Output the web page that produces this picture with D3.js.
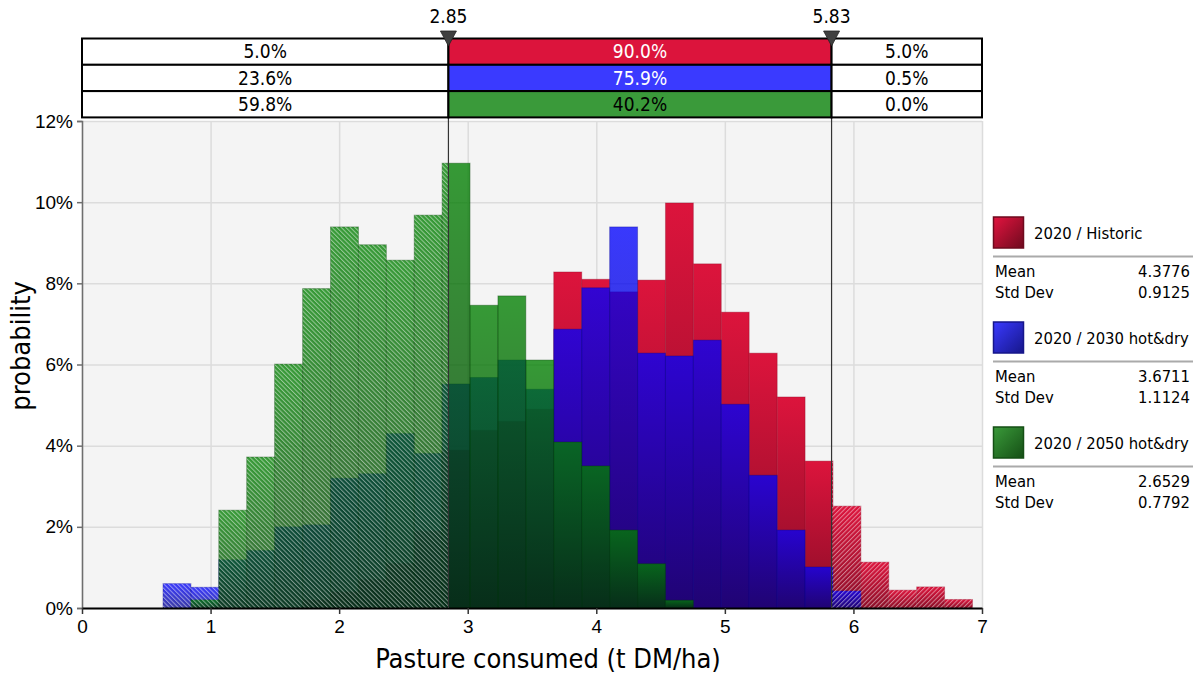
<!DOCTYPE html>
<html>
<head>
<meta charset="utf-8">
<title>Pasture consumed</title>
<script src="https://d3js.org/d3.v7.min.js"></script>
<style>
  body { margin: 0; background: #fff; }
  svg { font-family: "DejaVu Sans Condensed", "DejaVu Sans", sans-serif; }
  .grid line { stroke: #dcdcdc; stroke-width: 1.5; }
  .grid path { display: none; }
</style>
</head>
<body>
<svg width="1201" height="675"></svg>
<script>

// histogram bin edges (t DM/ha), shared by all three series
const binEdges = [0.630, 0.847, 1.064, 1.281, 1.498, 1.716, 1.933, 2.150, 2.367, 2.584,
                  2.801, 3.018, 3.235, 3.452, 3.669, 3.887, 4.104, 4.321, 4.538, 4.755,
                  4.972, 5.189, 5.407, 5.624, 5.841, 6.058, 6.275, 6.492, 6.709, 6.926];

// probability per bin (%)
const historic = [0, 0, 0, 0, 0, 0.2, 0.4, 0.7, 1.1, 1.9,
                  3.89, 4.38, 4.6, 4.9, 8.28, 8.1, 7.79, 8.08, 9.98, 8.48,
                  7.29, 6.28, 5.2, 3.62, 2.51, 1.13, 0.44, 0.52, 0.21];
const hotDry2030 = [0.6, 0.51, 1.19, 1.42, 2.0, 2.05, 3.2, 3.31, 4.3, 3.81,
                    5.52, 5.68, 6.11, 5.39, 6.87, 7.89, 9.39, 6.28, 6.21, 6.6,
                    5.02, 3.27, 1.92, 1.01, 0.42, 0, 0, 0, 0];
const hotDry2050 = [0, 0.2, 2.41, 3.72, 6.01, 7.87, 9.39, 8.95, 8.57, 9.68,
                    10.96, 7.46, 7.69, 6.11, 4.09, 3.5, 1.92, 1.09, 0.19, 0,
                    0, 0, 0, 0, 0, 0, 0, 0, 0];

const seriesNames = ["2020 / Historic", "2020 / 2030 hot&dry", "2020 / 2050 hot&dry"];
const seriesMeans = ["4.3776", "3.6711", "2.6529"];
const seriesStdDevs = ["0.9125", "1.1124", "0.7792"];

// delimiters and the probability table above the chart
const delimiters = [2.85, 5.83];
const leftPct = ["5.0%", "23.6%", "59.8%"];
const midPct = ["90.0%", "75.9%", "40.2%"];
const rightPct = ["5.0%", "0.5%", "0.0%"];

const xTicks = [0, 1, 2, 3, 4, 5, 6, 7];
const yTicks = [0, 2, 4, 6, 8, 10, 12];

const svg = d3.select("svg");
const plot = { left: 82, right: 982, top: 121, bottom: 608 };

const x = d3.scaleLinear().domain([0, 7]).range([plot.left, plot.right]);
const y = d3.scaleLinear().domain([0, 12]).range([plot.bottom, plot.top]);

const series = [
  { values: historic,   top: "#dc143c", bottom: "#8a0d27", opacity: 1,    cell: "#dc143c", text: "#fff", swatch: ["#e3143f", "#6e0a1e"] },
  { values: hotDry2030, top: "#0000ff", bottom: "#00008a", opacity: 0.77, cell: "#3a3aff", text: "#fff", swatch: ["#3a3aff", "#16168a"] },
  { values: hotDry2050, top: "#008000", bottom: "#003a00", opacity: 0.78, cell: "#3a9a3a", text: "#000", swatch: ["#3a9a3a", "#154f15"] }
];

const defs = svg.append("defs");

// vertical gradient for the bars, lighter on top
series.forEach(function(s, i) {
  const grad = defs.append("linearGradient")
    .attr("id", "bar-" + i)
    .attr("x1", 0).attr("y1", 0).attr("x2", 0).attr("y2", 1);
  grad.append("stop").attr("offset", 0).attr("stop-color", s.top);
  grad.append("stop").attr("offset", 1).attr("stop-color", s.bottom);

  const sw = defs.append("linearGradient")
    .attr("id", "swatch-" + i)
    .attr("x1", 0).attr("y1", 0).attr("x2", 1).attr("y2", 1);
  sw.append("stop").attr("offset", 0).attr("stop-color", s.swatch[0]);
  sw.append("stop").attr("offset", 1).attr("stop-color", s.swatch[1]);
});

// hatch patterns for the tails
[["hatch-left", -45], ["hatch-right", 45]].forEach(function(p) {
  const pat = defs.append("pattern")
    .attr("id", p[0])
    .attr("patternUnits", "userSpaceOnUse")
    .attr("width", 3.2).attr("height", 3.2)
    .attr("patternTransform", "rotate(" + p[1] + ")");
  pat.append("rect")
    .attr("x", 0).attr("y", 0).attr("width", 1).attr("height", 3.2)
    .attr("fill", "#fff").attr("fill-opacity", 0.48);
});

defs.append("clipPath").attr("id", "clip-left")
  .append("rect")
  .attr("x", plot.left).attr("y", plot.top)
  .attr("width", x(delimiters[0]) - plot.left).attr("height", plot.bottom - plot.top);
defs.append("clipPath").attr("id", "clip-right")
  .append("rect")
  .attr("x", x(delimiters[1])).attr("y", plot.top)
  .attr("width", plot.right - x(delimiters[1])).attr("height", plot.bottom - plot.top);

// plot background
svg.append("rect")
  .attr("x", plot.left).attr("y", plot.top)
  .attr("width", plot.right - plot.left).attr("height", plot.bottom - plot.top)
  .attr("fill", "#f4f4f4");

// grid
svg.append("g")
  .attr("class", "grid")
  .attr("transform", "translate(" + plot.left + ",0)")
  .call(d3.axisLeft(y).tickValues(yTicks).tickSize(-(plot.right - plot.left)).tickFormat(""));
svg.append("g")
  .attr("class", "grid")
  .attr("transform", "translate(0," + plot.bottom + ")")
  .call(d3.axisBottom(x).tickValues(xTicks).tickSize(-(plot.bottom - plot.top)).tickFormat(""));

// bars: historic, then 2030, then 2050 on top
series.forEach(function(s, i) {
  const bins = s.values.map(function(v, j) {
    return { x0: binEdges[j], x1: binEdges[j + 1], v: v };
  }).filter(function(d) { return d.v > 0; });

  svg.append("g").selectAll("rect")
    .data(bins)
    .join("rect")
    .attr("x", function(d) { return x(d.x0); })
    .attr("y", function(d) { return y(d.v); })
    .attr("width", function(d) { return x(d.x1) - x(d.x0); })
    .attr("height", function(d) { return y(0) - y(d.v); })
    .attr("fill", "url(#bar-" + i + ")")
    .attr("fill-opacity", s.opacity)
    .attr("stroke", s.bottom)
    .attr("stroke-opacity", 0.35)
    .attr("stroke-width", 1);
});

// hatching over the tails, using the outline of all series
const envelope = binEdges.slice(0, -1).map(function(e, j) {
  return { x0: e, x1: binEdges[j + 1], v: Math.max(historic[j], hotDry2030[j], hotDry2050[j]) };
}).filter(function(d) { return d.v > 0; });

["left", "right"].forEach(function(side) {
  svg.append("g")
    .attr("clip-path", "url(#clip-" + side + ")")
    .selectAll("rect")
    .data(envelope)
    .join("rect")
    .attr("x", function(d) { return x(d.x0); })
    .attr("y", function(d) { return y(d.v); })
    .attr("width", function(d) { return x(d.x1) - x(d.x0); })
    .attr("height", function(d) { return y(0) - y(d.v); })
    .attr("fill", "url(#hatch-" + side + ")");
});

// y axis
const yAxis = svg.append("g")
  .attr("transform", "translate(" + plot.left + ",0)")
  .call(d3.axisLeft(y).tickValues(yTicks).tickSize(5).tickPadding(4).tickFormat(function(d) { return d + "%"; }));
yAxis.select(".domain").attr("stroke", "#6e6e6e").attr("stroke-width", 1.5);
yAxis.selectAll(".tick line").attr("stroke", "#6e6e6e").attr("stroke-width", 1.5);
yAxis.selectAll("text").style("font-size", "19px").attr("fill", "#000");

// x axis
const xAxis = svg.append("g")
  .attr("transform", "translate(0," + plot.bottom + ")")
  .call(d3.axisBottom(x).tickValues(xTicks).tickSize(6).tickPadding(6).tickSizeOuter(0).tickFormat(d3.format("d")));
xAxis.select(".domain").attr("stroke", "#000").attr("stroke-width", 2);
xAxis.selectAll(".tick line").attr("stroke", "#333").attr("stroke-width", 1.5);
xAxis.selectAll("text").style("font-size", "19px").attr("fill", "#000");

// axis titles
svg.append("text")
  .attr("x", 548).attr("y", 668)
  .attr("text-anchor", "middle")
  .style("font-size", "27px")
  .text("Pasture consumed (t DM/ha)");

svg.append("text")
  .attr("transform", "translate(30," + 346 + ") rotate(-90)")
  .attr("text-anchor", "middle")
  .style("font-size", "27px")
  .text("probability");

// delimiter lines
svg.append("g").selectAll("line")
  .data(delimiters)
  .join("line")
  .attr("x1", function(d) { return x(d); })
  .attr("x2", function(d) { return x(d); })
  .attr("y1", 38).attr("y2", plot.bottom)
  .attr("stroke", "#333").attr("stroke-width", 1.2);

// probability table
const rowTop = 38.5, rowH = 26.3;
const cols = [x(0), x(delimiters[0]), x(delimiters[1]), x(7)];
const table = svg.append("g");
series.forEach(function(s, i) {
  const cells = [leftPct[i], midPct[i], rightPct[i]];
  cells.forEach(function(label, c) {
    table.append("rect")
      .attr("x", cols[c]).attr("y", rowTop + i * rowH)
      .attr("width", cols[c + 1] - cols[c]).attr("height", rowH)
      .attr("fill", c === 1 ? s.cell : "#fff")
      .attr("stroke", "#000").attr("stroke-width", 2);
    table.append("text")
      .attr("x", (cols[c] + cols[c + 1]) / 2)
      .attr("y", rowTop + i * rowH + rowH / 2)
      .attr("dy", "0.36em")
      .attr("text-anchor", "middle")
      .style("font-size", "19px")
      .attr("fill", c === 1 ? s.text : "#000")
      .text(label);
  });
});

// delimiter markers and values
delimiters.forEach(function(d) {
  const cx = x(d);
  svg.append("path")
    .attr("d", "M" + (cx - 8) + ",31 L" + (cx + 8) + ",31 L" + cx + ",46 Z")
    .attr("fill", "#404040").attr("stroke", "#222").attr("stroke-width", 0.8);
  svg.append("text")
    .attr("x", cx).attr("y", 23)
    .attr("text-anchor", "middle")
    .style("font-size", "19px")
    .text(d.toFixed(2));
});

// legend with statistics
const legend = svg.append("g");
series.forEach(function(s, i) {
  const top = 217 + i * 105;
  legend.append("rect")
    .attr("x", 993.5).attr("y", top)
    .attr("width", 30).attr("height", 31)
    .attr("fill", "url(#swatch-" + i + ")")
    .attr("stroke", s.swatch[1]).attr("stroke-width", 1.5);
  legend.append("text")
    .attr("x", 1034).attr("y", top + 16)
    .attr("dy", "0.36em")
    .style("font-size", "16.5px")
    .text(seriesNames[i]);
  legend.append("line")
    .attr("x1", 993).attr("x2", 1193)
    .attr("y1", top + 39.5).attr("y2", top + 39.5)
    .attr("stroke", "#aaa").attr("stroke-width", 2);
  [["Mean", seriesMeans[i]], ["Std Dev", seriesStdDevs[i]]].forEach(function(r, k) {
    legend.append("text")
      .attr("x", 995).attr("y", top + 54.5 + k * 21)
      .attr("dy", "0.36em")
      .style("font-size", "16.5px")
      .text(r[0]);
    legend.append("text")
      .attr("x", 1190).attr("y", top + 54.5 + k * 21)
      .attr("dy", "0.36em")
      .attr("text-anchor", "end")
      .style("font-size", "16.5px")
      .text(r[1]);
  });
});

</script>
</body>
</html>
